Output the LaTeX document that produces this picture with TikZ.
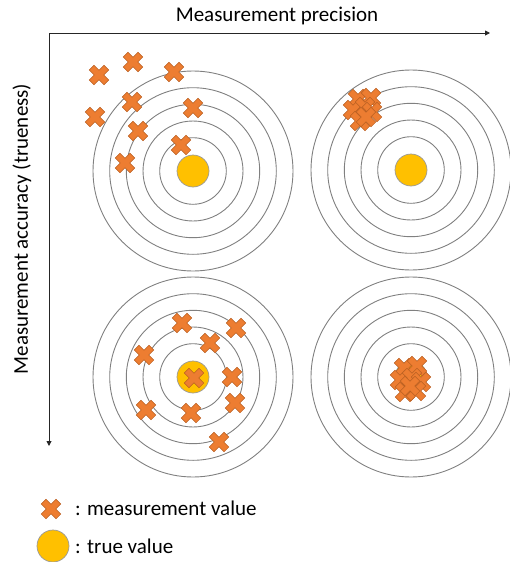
\documentclass[tikz,border=0pt]{standalone}
\usepackage{fontspec}
\setmainfont{Carlito}
\usetikzlibrary{arrows.meta}

\definecolor{shotfill}{HTML}{ED7D31}
\definecolor{shotline}{HTML}{B85F22}
\definecolor{truefill}{HTML}{FFC000}
\definecolor{ringgray}{HTML}{808080}

\begin{document}
\begin{tikzpicture}[x=1pt, y=-1pt, >={Triangle[length=5pt, width=5pt]},
    ring/.style={draw=ringgray, line width=0.9pt},
    truth/.style={circle, fill=truefill, draw=ringgray!80, line width=0.7pt, minimum size=32pt, inner sep=0pt},
    axis/.style={->, line width=0.9pt, draw=black!85},
    lbl/.style={font=\fontsize{21}{25}\selectfont, inner sep=0pt},
    shot/.pic={
        \filldraw[fill=shotfill, draw=shotline, line width=0.5pt, rotate=45]
            (3.3,10.5) -- (3.3,3.3) -- (10.5,3.3) -- (10.5,-3.3) -- (3.3,-3.3) -- (3.3,-10.5)
            -- (-3.3,-10.5) -- (-3.3,-3.3) -- (-10.5,-3.3) -- (-10.5,3.3) -- (-3.3,3.3) -- (-3.3,10.5) -- cycle;
    }]
    \useasboundingbox (0,0) rectangle (510,562);

    % corner of the axes
    \coordinate (Corner) at (49,33);
    \coordinate (PrecEnd) at (490,33);
    \coordinate (AccEnd) at (49,446);

    % axes
    \draw[axis] (Corner) -- (PrecEnd);
    \draw[axis] (Corner) -- (AccEnd);
    \node[lbl] (precision) at (277,16) {Measurement precision};
    \node[lbl, rotate=90] (accuracy) at (22,229) {Measurement accuracy (trueness)};

    % the four targets
    \foreach \name/\cx/\cy in {tl/193/171, tr/411/170, bl/193/377, br/411/377} {
        \coordinate (\name) at (\cx,\cy);
        \foreach \r in {33.3, 50, 66.7, 83.3, 100}
            \draw[ring] (\name) circle (\r);
        \node[truth] (true-\name) at (\name) {};
    }

    % low precision, low trueness
    \foreach \x/\y in {99/75, 133/62, 174/72, 95/117, 132/102, 193/108, 138/131, 181/145, 125/163}
        \pic at (\x,\y) {shot};

    % high precision, low trueness
    \foreach \x/\y in {358/99, 371/98, 353/110, 365/107, 372/112, 360/121, 366/117}
        \pic at (\x,\y) {shot};

    % low precision, high trueness
    \foreach \x/\y in {182/323, 236/328, 210/343, 144/355, 194/378, 232/377, 235/403, 146/410, 191/413, 219/442}
        \pic at (\x,\y) {shot};

    % high precision, high trueness
    \foreach \x/\y in {404/368, 417/366, 400/380, 412/378, 421/382, 405/392, 416/391, 410/386}
        \pic at (\x,\y) {shot};

    % legend
    \pic at (51,509) {shot};
    \node[lbl, anchor=base west] (shot-key) at (75,515) {: measurement value};
    \node[truth] (true-key) at (53,546) {};
    \node[lbl, anchor=base west] (true-key-text) at (75,553) {: true value};
\end{tikzpicture}
\end{document}
